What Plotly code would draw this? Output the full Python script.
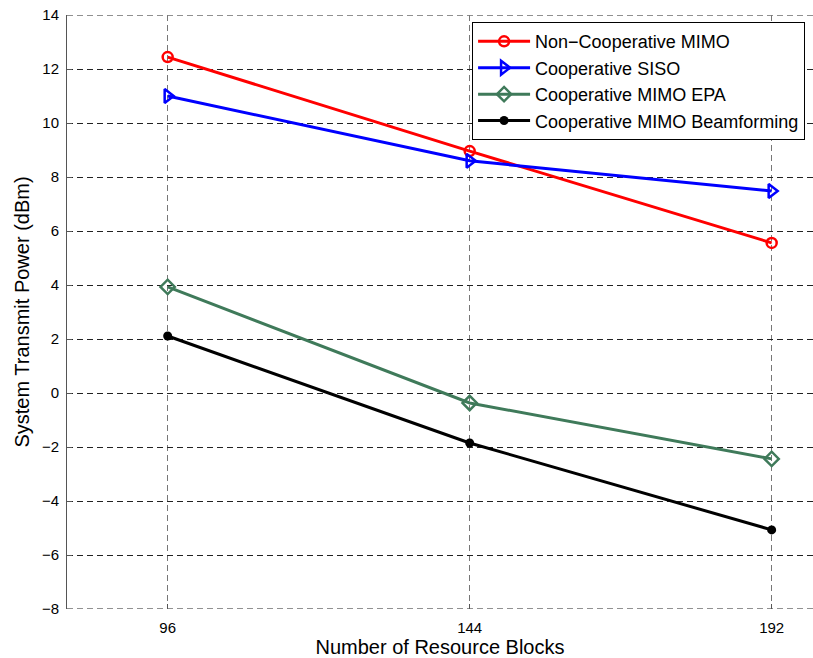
import plotly.graph_objects as go

# Number of resource blocks on the x axis
resource_blocks = [96, 144, 192]

# System transmit power (dBm) for each scheme
non_coop_mimo = [12.44, 8.96, 5.56]
coop_siso = [11.0, 8.60, 7.48]
coop_mimo_epa = [3.93, -0.37, -2.44]
coop_mimo_bf = [2.11, -1.85, -5.07]

y_ticks = list(range(-8, 15, 2))
y_tick_text = [("\u2212" + str(abs(v))) if v < 0 else str(v) for v in y_ticks]

FONT = "Liberation Sans, Arial, Helvetica, sans-serif"
X_RANGE = [80, 198.57]
Y_RANGE = [-8, 14]

series = [
    ("Non\u2212Cooperative MIMO", non_coop_mimo, "#ff0000",
     dict(symbol="circle-open", size=10, line=dict(width=2.5))),
    ("Cooperative SISO", coop_siso, "#0000ff",
     dict(symbol="triangle-right-open", size=12, line=dict(width=2.5))),
    ("Cooperative MIMO EPA", coop_mimo_epa, "#3f7a5a",
     dict(symbol="diamond-open", size=11, line=dict(width=2.5))),
    ("Cooperative MIMO Beamforming", coop_mimo_bf, "#000000",
     dict(symbol="circle", size=9)),
]

fig = go.Figure()
for name, vals, color, marker in series:
    fig.add_trace(go.Scatter(
        x=resource_blocks, y=vals, name=name, mode="lines+markers",
        line=dict(color=color, width=3),
        marker=dict(color=color, **marker),
    ))

# Dashed grid lines along the top and bottom limits of the value axis
for yv in Y_RANGE:
    fig.add_shape(type="line", xref="paper", yref="y", x0=0, x1=1, y0=yv, y1=yv,
                  line=dict(color="#222222", width=1, dash="6px,4px"), layer="below")

fig.update_layout(
    width=813, height=658,
    margin=dict(l=67, r=0, t=15, b=49),
    paper_bgcolor="white", plot_bgcolor="white",
    font=dict(family=FONT, color="#000000", size=15),
    showlegend=True,
    legend=dict(
        x=0.543, y=0.988, xanchor="left", yanchor="top",
        bgcolor="white", bordercolor="#000000", borderwidth=1,
        font=dict(family=FONT, size=18, color="#000000"),
        tracegroupgap=0, itemwidth=52,
    ),
)

fig.update_xaxes(
    range=X_RANGE,
    tickvals=resource_blocks, ticktext=[str(v) for v in resource_blocks],
    ticks="inside", ticklen=5, tickcolor="#555555",
    showline=False, zeroline=False,
    showgrid=True, gridcolor="#777777", gridwidth=1, griddash="6px,4px",
    tickfont=dict(family=FONT, size=15, color="#000000"),
    ticklabelstandoff=8,
    title=dict(text="Number of Resource Blocks",
               font=dict(family=FONT, size=20, color="#000000"), standoff=3),
)

fig.update_yaxes(
    range=Y_RANGE,
    tickvals=y_ticks, ticktext=y_tick_text,
    ticks="inside", ticklen=5, tickcolor="#555555",
    showline=True, linecolor="#555555", linewidth=1,
    zeroline=False,
    showgrid=True, gridcolor="#222222", gridwidth=1, griddash="6px,4px",
    tickfont=dict(family=FONT, size=15, color="#000000"),
    ticklabelstandoff=4,
    title=dict(text="System Transmit Power (dBm)",
               font=dict(family=FONT, size=20, color="#000000"), standoff=6),
)

fig.write_html("out.html")
